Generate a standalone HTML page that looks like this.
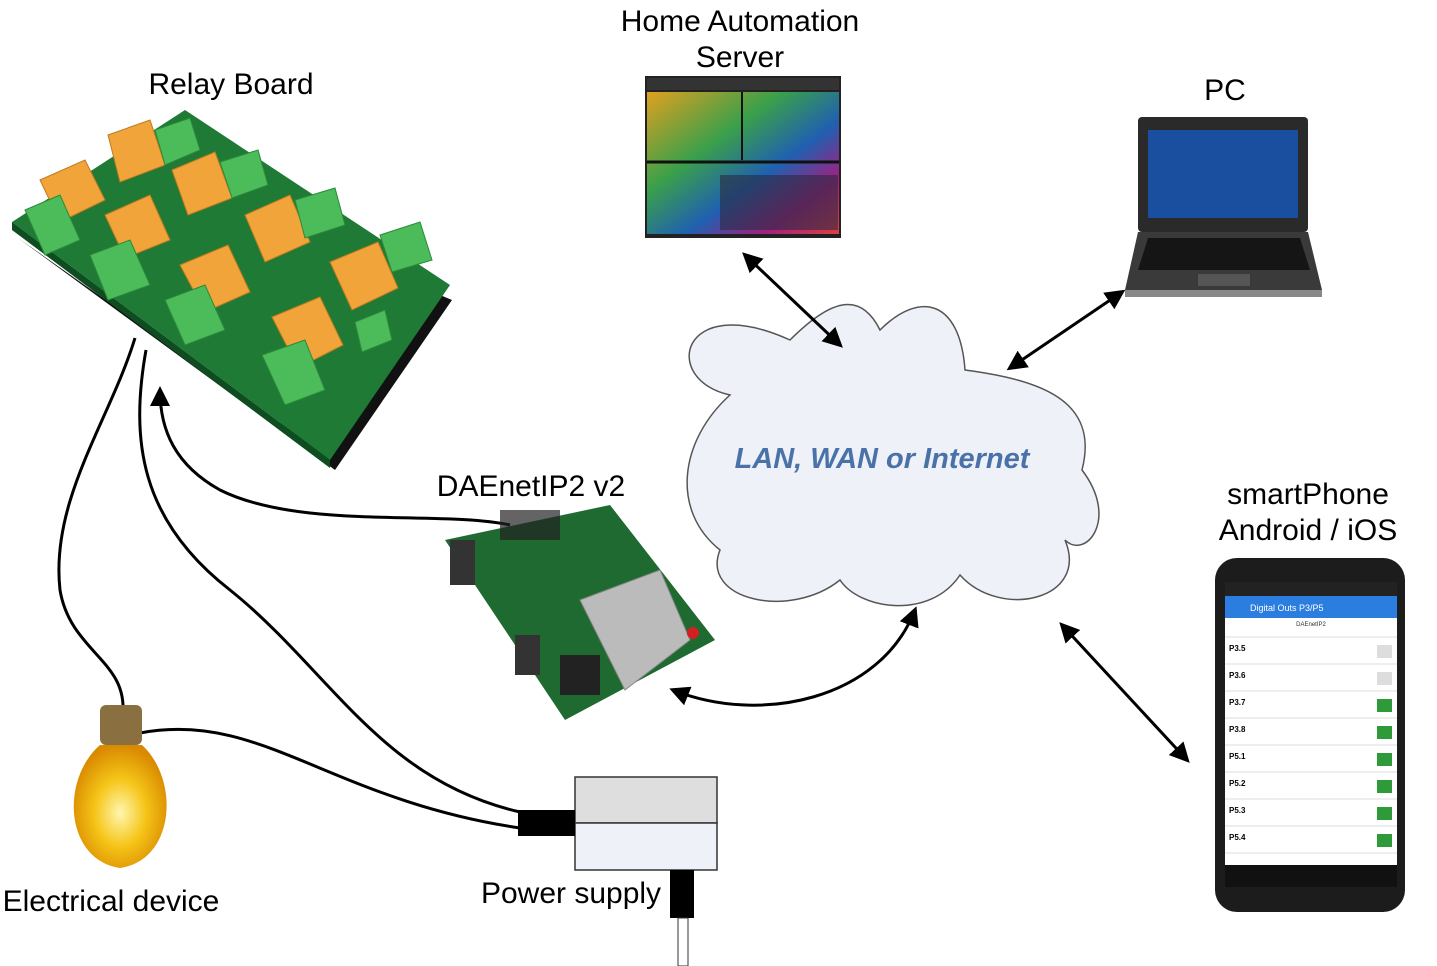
<!DOCTYPE html>
<html><head><meta charset="utf-8"><style>
html,body{margin:0;padding:0;background:#fff;}
svg{display:block;}
text{font-family:"Liberation Sans",sans-serif;}
</style></head><body>
<svg width="1437" height="966" viewBox="0 0 1437 966" xmlns="http://www.w3.org/2000/svg">
<defs>
<marker id="ab" markerWidth="20" markerHeight="20" refX="16" refY="10" orient="auto-start-reverse" markerUnits="userSpaceOnUse"><path d="M0,0 L20,10 L0,20 z" fill="#000"/></marker>
<radialGradient id="bulb" cx="50%" cy="55%" r="55%"><stop offset="0" stop-color="#fff6b0"/><stop offset="0.5" stop-color="#f5c518"/><stop offset="1" stop-color="#d98a00"/></radialGradient>
<linearGradient id="dash" x1="0" y1="0" x2="1" y2="1"><stop offset="0" stop-color="#e0a020"/><stop offset="0.35" stop-color="#3aa04a"/><stop offset="0.6" stop-color="#2060b0"/><stop offset="0.8" stop-color="#a02080"/><stop offset="1" stop-color="#e04040"/></linearGradient>
</defs>

<g font-size="30">
<text x="231" y="94" text-anchor="middle">Relay Board</text>
<text x="740" y="31" text-anchor="middle">Home Automation</text>
<text x="740" y="67" text-anchor="middle">Server</text>
<text x="1225" y="100" text-anchor="middle">PC</text>
<text x="1308" y="504" text-anchor="middle">smartPhone</text>
<text x="1308" y="540" text-anchor="middle">Android / iOS</text>
<text x="531" y="496" text-anchor="middle">DAEnetIP2 v2</text>
<text x="111" y="911" text-anchor="middle">Electrical device</text>
<text x="571" y="903" text-anchor="middle">Power supply</text>
</g>

<polygon points="18,238 335,470 452,300 440,295 330,458" fill="#111"/>
<polygon points="12,222 185,110 450,285 330,460" fill="#1f7a35"/>
<polygon points="12,222 330,460 330,468 12,230" fill="#0d4d20"/>
<g fill="#f0a43a" stroke="#c07a20" stroke-width="1">
<polygon points="40,180 85,160 105,200 60,222"/>
<polygon points="108,135 150,120 165,165 120,182"/>
<polygon points="105,215 150,195 170,240 125,258"/>
<polygon points="172,170 215,152 232,198 188,215"/>
<polygon points="180,265 228,245 250,292 205,312"/>
<polygon points="245,215 290,195 310,242 265,262"/>
<polygon points="330,262 378,242 398,288 352,310"/>
<polygon points="272,317 320,297 343,345 298,368"/>
</g>
<g fill="#4cbb5a" stroke="#2a8a3a" stroke-width="1">
<polygon points="25,210 60,195 80,240 45,255"/>
<polygon points="90,255 130,240 150,285 108,300"/>
<polygon points="165,300 205,285 225,330 185,345"/>
<polygon points="262,355 305,340 325,390 285,405"/>
<polygon points="155,130 190,118 200,150 165,165"/>
<polygon points="220,162 258,150 268,185 232,198"/>
<polygon points="295,200 335,188 345,225 305,238"/>
<polygon points="380,235 420,222 432,260 392,272"/>
<polygon points="355,322 385,310 392,340 362,352"/>
</g>

<rect x="645" y="76" width="196" height="162" fill="#222"/>
<rect x="647" y="92" width="192" height="142" fill="url(#dash)"/>
<rect x="647" y="78" width="192" height="12" fill="#333"/>
<line x1="742" y1="92" x2="742" y2="160" stroke="#111" stroke-width="2"/>
<line x1="647" y1="162" x2="839" y2="162" stroke="#111" stroke-width="3"/>
<rect x="720" y="175" width="118" height="55" fill="#2a2a40" opacity="0.6"/>

<rect x="1138" y="117" width="170" height="115" rx="4" fill="#2a2a2a"/>
<rect x="1148" y="130" width="150" height="88" fill="#1a4fa0"/>
<polygon points="1138,232 1308,232 1322,290 1125,290" fill="#3a3a3a"/>
<polygon points="1148,238 1300,238 1310,270 1138,270" fill="#151515"/>
<rect x="1198" y="274" width="52" height="12" fill="#555"/>
<rect x="1125" y="290" width="197" height="7" fill="#888"/>

<path d="M730,395 C660,380 680,290 790,340 C830,300 860,290 880,330 C920,290 960,300 965,370 C1040,380 1100,400 1082,470 C1120,520 1085,560 1065,540 C1090,600 1000,620 960,575 C930,620 860,610 840,580 C790,620 700,600 720,550 C670,510 680,440 730,395 z" fill="#eef1f8" stroke="#555" stroke-width="1.5"/>
<text x="882" y="468" font-size="29" font-weight="bold" font-style="italic" fill="#4a72a8" text-anchor="middle">LAN, WAN or Internet</text>

<line x1="745" y1="255" x2="840" y2="345" stroke="#000" stroke-width="3" marker-start="url(#ab)" marker-end="url(#ab)"/>
<line x1="1010" y1="368" x2="1122" y2="292" stroke="#000" stroke-width="3" marker-start="url(#ab)" marker-end="url(#ab)"/>
<line x1="1062" y1="625" x2="1187" y2="760" stroke="#000" stroke-width="3" marker-start="url(#ab)" marker-end="url(#ab)"/>
<path d="M673,690 C760,725 880,700 915,610" fill="none" stroke="#000" stroke-width="3" marker-start="url(#ab)" marker-end="url(#ab)"/>
<path d="M510,525 C440,510 300,530 220,490 C175,465 160,430 160,390" fill="none" stroke="#000" stroke-width="3" marker-end="url(#ab)"/>

<path d="M135,338 C110,420 50,500 60,590 C70,650 125,660 123,710" fill="none" stroke="#000" stroke-width="3"/>
<path d="M146,350 C130,440 140,520 230,590 C330,670 380,780 520,812" fill="none" stroke="#000" stroke-width="3"/>
<path d="M140,733 C260,710 330,800 520,828" fill="none" stroke="#000" stroke-width="3"/>

<polygon points="445,540 610,505 715,640 565,720" fill="#1f6a30"/>
<polygon points="580,600 660,570 690,640 625,690" fill="#bbb" stroke="#888"/>
<rect x="450" y="540" width="25" height="45" fill="#333"/>
<rect x="515" y="635" width="25" height="40" fill="#333"/>
<rect x="560" y="655" width="40" height="40" fill="#222"/>
<rect x="500" y="510" width="60" height="30" fill="#222" opacity="0.7"/>
<circle cx="693" cy="633" r="6" fill="#d02020"/>

<rect x="100" y="705" width="42" height="40" rx="6" fill="#8a7040"/>
<path d="M100,745 C60,780 65,860 120,868 C175,860 180,780 142,745 z" fill="url(#bulb)"/>

<rect x="575" y="777" width="142" height="46" fill="#dedede" stroke="#333" stroke-width="1.5"/>
<rect x="575" y="823" width="142" height="47" fill="#eef1f8" stroke="#333" stroke-width="1.5"/>
<rect x="518" y="810" width="57" height="26" fill="#000"/>
<rect x="670" y="870" width="24" height="48" fill="#000"/>
<rect x="678" y="918" width="10" height="48" fill="#fff" stroke="#333" stroke-width="1"/>

<rect x="1215" y="558" width="190" height="354" rx="22" fill="#1c1c1c"/>
<rect x="1225" y="582" width="172" height="283" fill="#fff"/>
<rect x="1225" y="582" width="172" height="14" fill="#222"/>
<rect x="1225" y="596" width="172" height="22" fill="#2b7de0"/>
<text x="1250" y="611" font-size="9" fill="#fff">Digital Outs P3/P5</text>
<text x="1311" y="626" font-size="6" fill="#333" text-anchor="middle">DAEnetIP2</text>
<g font-size="8" font-weight="bold" fill="#000">
<text x="1229" y="651">P3.5</text><text x="1229" y="678">P3.6</text><text x="1229" y="705">P3.7</text><text x="1229" y="732">P3.8</text>
<text x="1229" y="759">P5.1</text><text x="1229" y="786">P5.2</text><text x="1229" y="813">P5.3</text><text x="1229" y="840">P5.4</text>
</g>
<g stroke="#ddd"><line x1="1225" y1="637" x2="1397" y2="637"/><line x1="1225" y1="664" x2="1397" y2="664"/><line x1="1225" y1="691" x2="1397" y2="691"/><line x1="1225" y1="718" x2="1397" y2="718"/><line x1="1225" y1="745" x2="1397" y2="745"/><line x1="1225" y1="772" x2="1397" y2="772"/><line x1="1225" y1="799" x2="1397" y2="799"/><line x1="1225" y1="826" x2="1397" y2="826"/><line x1="1225" y1="853" x2="1397" y2="853"/></g>
<g fill="#ddd"><rect x="1377" y="645" width="15" height="13"/><rect x="1377" y="672" width="15" height="13"/></g>
<g fill="#2e9a3a"><rect x="1377" y="699" width="15" height="13"/><rect x="1377" y="726" width="15" height="13"/><rect x="1377" y="753" width="15" height="13"/><rect x="1377" y="780" width="15" height="13"/><rect x="1377" y="807" width="15" height="13"/><rect x="1377" y="834" width="15" height="13"/></g>
<rect x="1225" y="865" width="172" height="22" fill="#111"/>
</svg>
</body></html>
